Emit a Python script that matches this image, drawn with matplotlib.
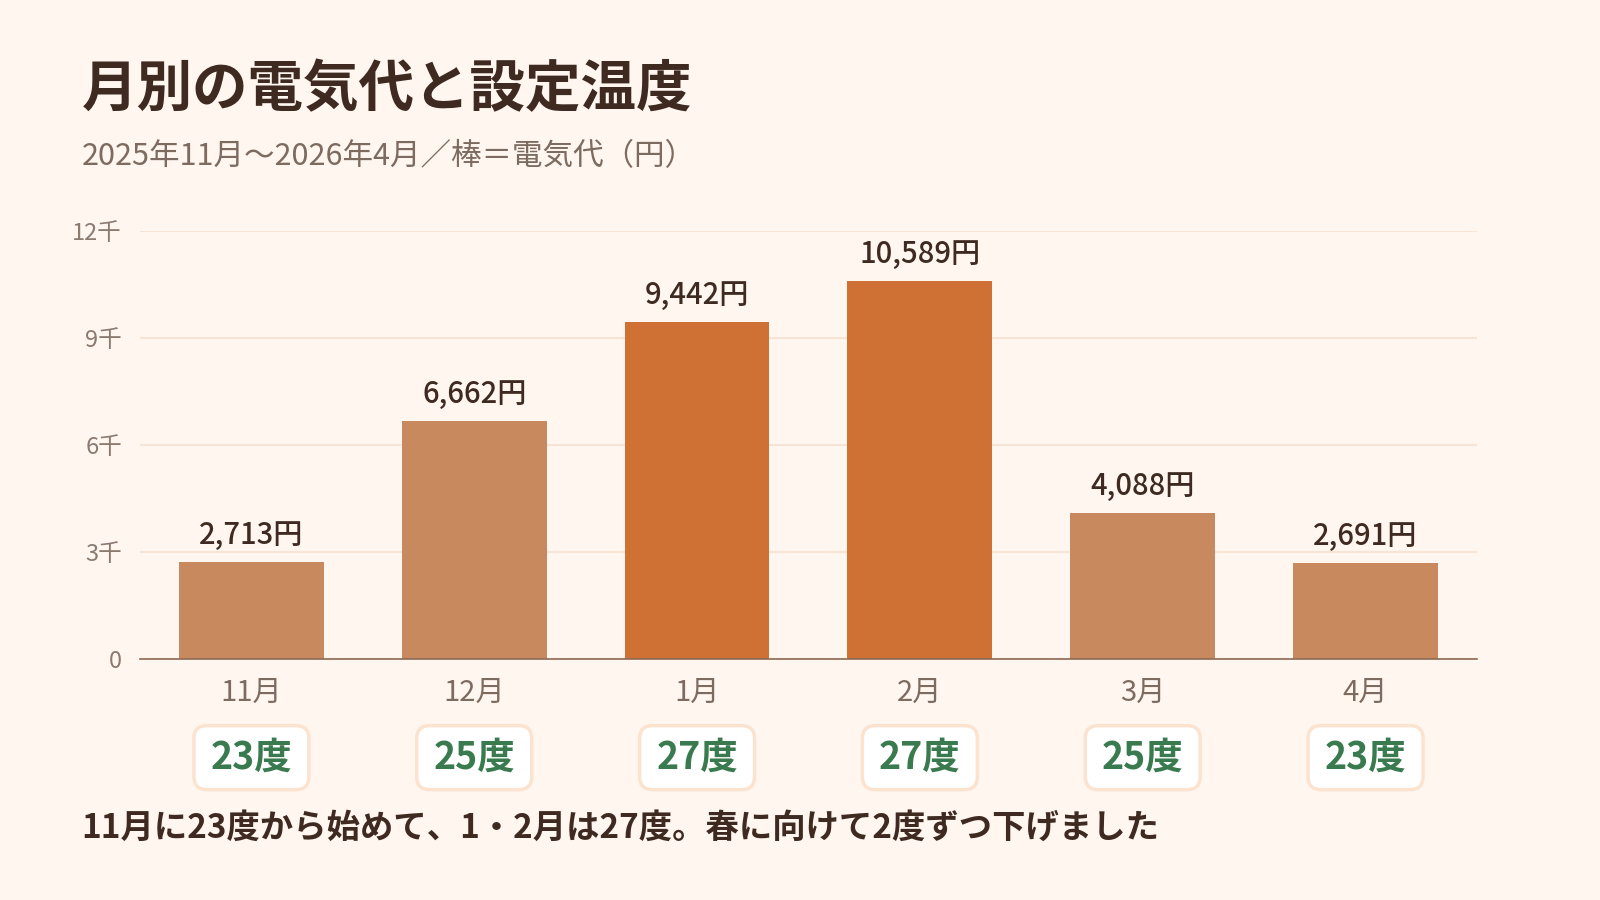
import matplotlib.pyplot as plt
from matplotlib.patches import FancyBboxPatch
from matplotlib.transforms import IdentityTransform

plt.rcParams['font.family'] = ['Noto Sans CJK JP', 'DejaVu Sans']

months = ['11月', '12月', '1月', '2月', '3月', '4月']
costs = [2713, 6662, 9442, 10589, 4088, 2691]
temps = [23, 25, 27, 27, 25, 23]
yticks = [0, 3000, 6000, 9000, 12000]
ytick_labels = ['0', '3千', '6千', '9千', '12千']

bg = '#FFF6F0'
light = '#C8895F'
dark = '#CF7034'
ink = '#3E2A20'
muted = '#7D6B60'
green = '#3A7A4F'

fig = plt.figure(figsize=(16, 9), dpi=100, facecolor=bg)
ax = fig.add_axes([0.0875, 0.268, 0.8356, 0.4754])
ax.set_facecolor(bg)

colors = [dark if t == max(temps) else light for t in temps]
x = range(len(months))
bars = ax.bar(x, costs, width=0.65, color=colors, zorder=3)

for i, v in enumerate(costs):
    ax.annotate(f'{v:,}円', (i, v), xytext=(0, 8), textcoords='offset points',
                ha='center', va='bottom', fontsize=21, fontweight='medium', color=ink)

ax.set_xlim(-0.5, len(months) - 0.5)
ax.set_ylim(0, 12000)
ax.set_yticks(yticks)
ax.set_yticklabels(ytick_labels)
ax.set_xticks(list(x))
ax.set_xticklabels(months)
ax.tick_params(axis='y', length=0, pad=13, labelsize=17, labelcolor='#8A7A70')
ax.tick_params(axis='x', length=0, pad=14, labelsize=21, labelcolor=muted)
ax.grid(axis='y', color='#F8E4D4', linewidth=1.5, zorder=0)
for s in ['top', 'right', 'left']:
    ax.spines[s].set_visible(False)
ax.spines['bottom'].set_color('#8B6A55')
ax.spines['bottom'].set_linewidth(1.2)
ax.spines['bottom'].set_zorder(4)

# temperature badges under the month labels
fig.canvas.draw()
bw, bh = 115, 64
for i, t in enumerate(temps):
    cx = ax.transData.transform((i, 0))[0]
    cy = ax.transAxes.transform((0, -0.231))[1]
    box = FancyBboxPatch((cx - bw / 2, cy - bh / 2), bw, bh,
                         boxstyle='round,pad=0,rounding_size=13',
                         transform=IdentityTransform(), facecolor='white',
                         edgecolor='#FBE3D0', linewidth=2.5, zorder=-1)
    fig.add_artist(box)
    ax.text(i, -0.231, f'{t}度', transform=ax.get_xaxis_transform(),
            ha='center', va='center', fontsize=27, fontweight='bold', color=green)

fig.text(0.051, 0.9, '月別の電気代と設定温度', fontsize=40, fontweight='bold',
         color=ink, va='center')
fig.text(0.051, 0.826, '2025年11月〜2026年4月／棒＝電気代（円）', fontsize=22,
         color=muted, va='center')
fig.text(0.051, 0.08, '11月に23度から始めて、1・2月は27度。春に向けて2度ずつ下げました',
         fontsize=24, fontweight='bold', color=ink, va='center')

fig.savefig('out.png', dpi=100, facecolor=bg)
